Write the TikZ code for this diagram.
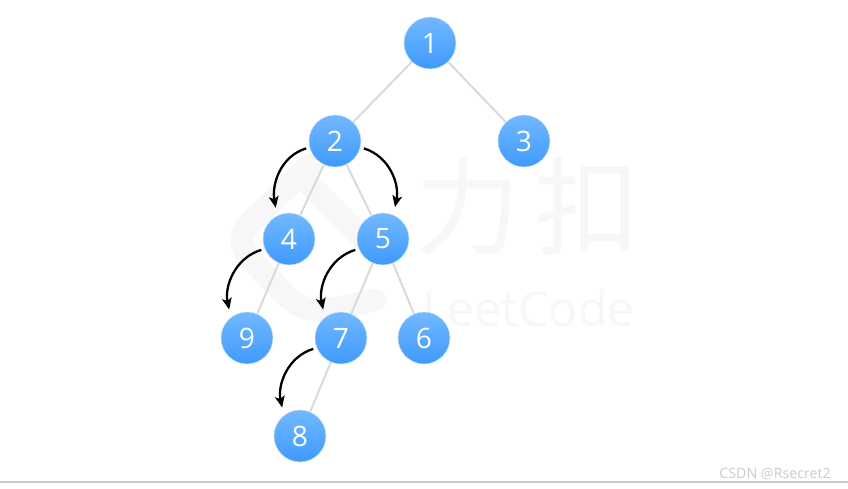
\documentclass[tikz,border=0pt]{standalone}
\usepackage{fontspec}
\setmainfont{Open Sans}
\newfontfamily\cjkfont{Noto Sans CJK SC}[Scale=1]
\usepackage{tikz}
\usetikzlibrary{arrows.meta}
\definecolor{nodetop}{HTML}{72B8FF}
\definecolor{nodebot}{HTML}{3F9AFC}
\definecolor{nodeedge}{HTML}{CFE5FC}
\definecolor{linkgray}{HTML}{D9D9D9}
\definecolor{markgray}{HTML}{F7F7F7}
\definecolor{footgray}{HTML}{CBCBCB}
\tikzset{
  treenode/.style={circle,minimum size=1.04cm,inner sep=0pt,top color=nodetop,bottom color=nodebot,draw=nodeedge,line width=0.3pt,text=white,font=\fontsize{16}{16}\selectfont},
  link/.style={draw=linkgray,line width=1.1pt},
  hop/.style={-{Stealth[length=6.5pt,width=5.5pt,inset=1.5pt]},black,line width=1.3pt,shorten >=4.5pt,shorten <=2pt}
}
\begin{document}
\begin{tikzpicture}[x=1.0cm,y=1.0cm]
  \useasboundingbox (0,0) rectangle (16.96,9.78);
  \fill[white] (0,0) rectangle (16.96,9.78);
  % watermark
  \draw[markgray,line width=13pt,line cap=round,rounded corners=14pt] (6.2,6.48) -- (4.64,4.98) -- (6.1,3.48) -- (7.5,3.78);
  \draw[markgray,line width=13pt,line cap=round] (6.0,6.28) -- (7.3,4.98);
  \node[markgray,font=\cjkfont\fontsize{60}{60}\selectfont] (markcn) at (10.55,5.65) {力\hspace{8pt}扣};
  \node[markgray,font=\fontsize{27.5}{27.5}\selectfont] (markla) at (10.57,3.62) {LeetCode};
  % tree
  \node[treenode] (n1) at (8.60,8.92) {1};
  \node[treenode] (n2) at (6.70,6.96) {2};
  \node[treenode] (n3) at (10.48,6.96) {3};
  \node[treenode] (n4) at (5.78,5.00) {4};
  \node[treenode] (n5) at (7.66,5.00) {5};
  \node[treenode] (n9) at (4.94,3.02) {9};
  \node[treenode] (n7) at (6.82,3.02) {7};
  \node[treenode] (n6) at (8.48,3.02) {6};
  \node[treenode] (n8) at (6.00,1.06) {8};
  \draw[link] (n1) -- (n2);
  \draw[link] (n1) -- (n3);
  \draw[link] (n2) -- (n4);
  \draw[link] (n2) -- (n5);
  \draw[link] (n4) -- (n9);
  \draw[link] (n5) -- (n7);
  \draw[link] (n5) -- (n6);
  \draw[link] (n7) -- (n8);
  % traversal arrows
  \draw[hop] (n2.194) to[out=197,in=100,looseness=1.05] (n4.117);
  \draw[hop] (n2.-14) to[out=-17,in=78,looseness=1.05] (n5.67);
  \draw[hop] (n4.202) to[out=197,in=102,looseness=1.05] (n9.128);
  \draw[hop] (n5.202) to[out=197,in=102,looseness=1.05] (n7.128);
  \draw[hop] (n7.202) to[out=197,in=102,looseness=1.05] (n8.128);
  % footer
  \node[footgray,font=\fontsize{8.1}{8.1}\selectfont,anchor=east] (foot) at (16.74,0.31) {CSDN @Rsecret2};
  \draw[footgray,line width=0.6pt] (0,0.14) -- (16.96,0.14);
\end{tikzpicture}
\end{document}
